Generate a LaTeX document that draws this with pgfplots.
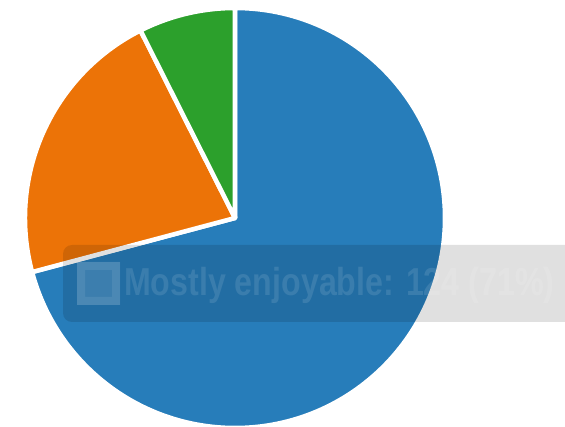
\documentclass[border=0pt]{standalone}
\usepackage{pgfplots}
\pgfplotsset{compat=1.18}
\usepackage{pgfplotstable}
\usepackage{fontspec}
\setmainfont{Liberation Sans}
\definecolor{cblue}{HTML}{277DBA}
\definecolor{corange}{HTML}{EC7307}
\definecolor{cgreen}{HTML}{2CA02C}
\pgfplotstableread{
label value
Mostly 124
Other 38
Third 13
}\piedata
\begin{document}
\begin{tikzpicture}
\path[use as bounding box, clip] (0,0) rectangle (565bp,427bp);
\pgfplotstablegetelem{0}{value}\of\piedata \let\va\pgfplotsretval
\pgfplotstablegetelem{1}{value}\of\piedata \let\vb\pgfplotsretval
\pgfplotstablegetelem{2}{value}\of\piedata \let\vc\pgfplotsretval
\pgfmathsetmacro{\tot}{\va+\vb+\vc}
\pgfmathsetmacro{\aA}{90}
\pgfmathsetmacro{\aB}{90-360*(\va/\tot)}
\pgfmathsetmacro{\aC}{\aB-360*(\vb/\tot)}
\pgfmathsetmacro{\aD}{\aC-360*(\vc/\tot)}
\begin{axis}[
  x=1bp, y=1bp,
  xmin=0, xmax=565, ymin=0, ymax=427,
  hide axis, clip=false,
]
\fill[cblue, draw=white, line width=4.5bp, line join=round] (axis cs:235,209) -- ++(\aA:210bp) arc[start angle=\aA, end angle=\aB, radius=210bp] -- cycle;
\fill[corange, draw=white, line width=4.5bp, line join=round] (axis cs:235,209) -- ++(\aB:210bp) arc[start angle=\aB, end angle=\aC, radius=210bp] -- cycle;
\fill[cgreen, draw=white, line width=4.5bp, line join=round] (axis cs:235,209) -- ++(\aC:210bp) arc[start angle=\aC, end angle=\aD, radius=210bp] -- cycle;
% tooltip
\fill[black, opacity=0.12, rounded corners=9bp] (axis cs:63,105) rectangle (axis cs:640,182);
\fill[white, opacity=0.12] (axis cs:77,122) rectangle (axis cs:120,165);
\fill[white, opacity=0.08, even odd rule] (axis cs:77,122) rectangle (axis cs:120,165) (axis cs:85,130) rectangle (axis cs:112,157);
\node[anchor=base west, inner sep=0pt, text=white, text opacity=0.11, xscale=0.825, font=\fontsize{39bp}{44bp}\selectfont\bfseries] at (axis cs:124,132) {Mostly enjoyable: 124 (71\%)};
\end{axis}
\end{tikzpicture}
\end{document}
